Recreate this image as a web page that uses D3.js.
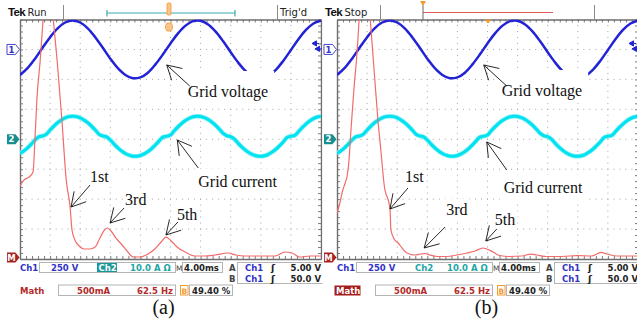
<!DOCTYPE html>
<html>
<head>
<meta charset="utf-8">
<script src="https://cdn.jsdelivr.net/npm/d3@7/dist/d3.min.js"></script>
<style>
  body { margin: 0; background: #fff; }
  svg { display: block; }
  .ui { font-family: "DejaVu Sans", sans-serif; font-weight: bold; font-size: 8.5px; }
  .note { font-family: "Liberation Serif", "Times New Roman", serif; font-size: 16px; fill: #111; }
</style>
</head>
<body>
<svg id="chart" width="637" height="321"></svg>
<script>
// ---- values read off the two scope screens ----
// Ch1 grid voltage, 250 V/div, sampled every 1 ms (4 ms/div)
const ch1Time = d3.range(0, 40.01, 1);
const ch1Volts = [-213,-156,-77,14,102,176,225,242,225,176,102,14,-77,-156,-213,-240,-233,-194,-125,-41,
  50,134,199,236,239,209,149,68,-23,-110,-182,-228,-242,-221,-170,-94,-5,85,163,217,241];

// Ch2 grid current, 10 A/div, sampled every 0.5 ms
const ch2Time = d3.range(0, 40.01, 0.5);
const ch2Amps = [-4.75,-3.92,-2.87,-1.63,-0.26,0.78,1.09,1.68,3.10,4.40,
  5.53,6.45,7.14,7.56,7.70,7.56,7.14,6.45,5.53,4.40,
  3.10,1.68,1.09,0.78,-0.26,-1.63,-2.87,-3.92,-4.75,-5.33,
  -5.65,-5.68,-5.42,-4.89,-4.11,-3.10,-1.89,-0.54,0.72,1.03,
  1.39,2.82,4.14,5.32,6.28,7.02,7.50,7.69,7.61,7.24,
  6.61,5.73,4.64,3.37,1.97,1.16,0.84,0.03,-1.38,-2.64,
  -3.73,-4.61,-5.24,-5.61,-5.69,-5.50,-5.03,-4.29,-3.34,-2.14,
  -0.83,0.61,0.97,1.28,2.53,3.89,5.09,6.10,6.89,7.42,
  7.70];

// Math FFT of the current, 62.5 Hz/div, 500 mA/div
const mathFreqA = [0,8,19,27,31,35,42,48,58,69,77,87,96,104,108,114,123,133,145,156,
  166,174,181,189,199,212,224,235,249,266,280,293,303,314,326,343,363,384,405,432,
  448,467,498,530,550,565,581,602,625];
const mathAmpA = [1194,1294,1344,1428,1962,2630,3298,3983,4970,3983,3298,2296,1294,843,459,292,192,142,142,175,
  326,443,493,443,326,209,92,8,8,58,142,259,342,276,175,92,25,25,42,75,
  42,25,25,25,92,75,8,25,25];
const mathFreqB = [0,6,12,17,21,25,29,35,42,46,56,69,77,85,91,98,110,112,120,127,
  135,145,162,174,183,193,208,228,249,270,287,303,311,324,338,357,384,403,415,436,
  467,498,529,548,561,581,625];
const mathAmpB = [743,910,1127,1244,1361,1628,2129,2797,3465,3983,4970,3983,3131,2296,1795,1211,810,459,292,242,
  159,75,42,58,67,42,17,17,42,75,109,159,142,92,33,17,25,58,42,17,
  17,33,25,84,58,25,25];

const triggerLevels = [5.0, 50.0];   // A, B trigger on Ch1 (V)
const captions = ["(a)", "(b)"];
const noteTexts = ["Grid voltage", "Grid current", "1st", "3rd", "5th"];

// ---- layout ----
const svg = d3.select("#chart");
const X0 = 20, Y0 = 19.5, W = 301, H = 239.5;
const BLUE = "#2222d6", CYAN = "#00e2ef", RED = "#f36a6a";
const UI_BLUE = "#3232c6", UI_TEAL = "#1ea5a5", UI_RED = "#b42a2a", ORANGE = "#f29a30", FRAME = "#6e6e6e";

const panels = [
  { id: "a", ox: 0, state: "Run", hiCh2: true, hiMath: false, freq: mathFreqA, amp: mathAmpA, capX: 163.5,
    notes: [
      { ch: "v", x: 19.5, y: -130, tdx: 21, tdy: 32, sdx: 23, sdy: 21, pad: [4, 12, 6, 3] },
      { ch: "i", x: 20.9, y: -0.25, tdx: 21, tdy: 47, sdx: 21, sdy: 28, pad: [4, 4, 4, 4] },
      { ch: "m", x: 106, y: 843, tdx: 19, tdy: -25, sdx: 19, sdy: -22, pad: [2, 2, 2, 2] },
      { ch: "m", x: 187, y: 576, tdx: 15, tdy: -18, sdx: 14, sdy: -15, pad: [2, 2, 2, 2] },
      { ch: "m", x: 303, y: 376, tdx: 11, tdy: -15, sdx: 12, sdy: -13, pad: [2, 2, 2, 2] }
    ] },
  { id: "b", ox: 317, state: "Stop", hiCh2: false, hiMath: true, freq: mathFreqB, amp: mathAmpB, capX: 169.5,
    notes: [
      { ch: "v", x: 19.5, y: -130, tdx: 18, tdy: 31, sdx: 23, sdy: 21, pad: [4, 12, 6, 3] },
      { ch: "i", x: 19.9, y: -0.9, tdx: 17, tdy: 51, sdx: 20, sdy: 28, pad: [4, 4, 4, 4] },
      { ch: "m", x: 110, y: 810, tdx: 15, tdy: -27, sdx: 18, sdy: -21, pad: [2, 2, 2, 2] },
      { ch: "m", x: 181, y: 159, tdx: 22, tdy: -33, sdx: 21, sdy: -21, pad: [2, 2, 2, 2] },
      { ch: "m", x: 309, y: 276, tdx: 9, tdy: -16, sdx: 11, sdy: -12, pad: [2, 2, 2, 2] }
    ] }
];

const defs = svg.append("defs");

function txt(g, x, y, s, fill, cls, anchor) {
  return g.append("text").attr("x", x).attr("y", y).attr("class", cls || "ui")
    .attr("fill", fill).attr("text-anchor", anchor || "start").text(s);
}

function drawPanel(p, pi) {
  const clipAll = defs.append("clipPath").attr("id", "all-" + p.id);
  clipAll.append("rect").attr("x", 0).attr("y", 0).attr("width", pi === 0 ? 322.5 : 400).attr("height", 321);
  const clipPlot = defs.append("clipPath").attr("id", "plot-" + p.id);
  clipPlot.append("rect").attr("x", X0).attr("y", Y0).attr("width", W).attr("height", H);

  const g = svg.append("g").attr("transform", `translate(${p.ox},0)`)
    .attr("clip-path", `url(#all-${p.id})`);

  const xT = d3.scaleLinear([0, 40], [X0, X0 + W]);
  const xF = d3.scaleLinear([0, 625], [X0, X0 + W]);
  const xDiv = d3.scaleLinear([0, 10], [X0, X0 + W]);
  const yDiv = d3.scaleLinear([-4, 4], [Y0 + H, Y0]);
  const y1 = v => yDiv(3 + v / 250);
  const y2 = a => yDiv(a / 10);
  const yM = m => yDiv(-3.95 + m / 500);

  // dotted graticule
  const grid = g.append("g").attr("stroke", "#a4a4a4").attr("stroke-width", 1);
  grid.selectAll(".gx").data(d3.range(1, 10)).join("line")
    .attr("x1", d => xDiv(d)).attr("x2", d => xDiv(d)).attr("y1", Y0).attr("y2", Y0 + H)
    .attr("stroke-dasharray", `1 ${H / 40 - 1}`).attr("stroke-dashoffset", 0.5);
  grid.selectAll(".gy").data(d3.range(-3, 4)).join("line")
    .attr("y1", d => yDiv(d)).attr("y2", d => yDiv(d)).attr("x1", X0).attr("x2", X0 + W)
    .attr("stroke-dasharray", `1 ${W / 50 - 1}`).attr("stroke-dashoffset", 0.5);

  // frame with minor ticks
  const minorX = d3.range(0, 10.01, 0.2), minorY = d3.range(-4, 4.01, 0.2);
  const frame = g.append("g");
  frame.append("g").attr("transform", `translate(0,${Y0})`)
    .call(d3.axisBottom(xDiv).tickValues(minorX).tickSize(3).tickFormat("").tickSizeOuter(0));
  frame.append("g").attr("transform", `translate(0,${Y0 + H})`)
    .call(d3.axisTop(xDiv).tickValues(minorX).tickSize(3).tickFormat("").tickSizeOuter(0));
  frame.append("g").attr("transform", `translate(${X0},0)`)
    .call(d3.axisRight(yDiv).tickValues(minorY).tickSize(3).tickFormat("").tickSizeOuter(0));
  frame.append("g").attr("transform", `translate(${X0 + W},0)`)
    .call(d3.axisLeft(yDiv).tickValues(minorY).tickSize(3).tickFormat("").tickSizeOuter(0));
  frame.selectAll("path.domain").attr("stroke", FRAME).attr("stroke-width", 1.4);
  frame.selectAll(".tick line").attr("stroke", FRAME).attr("stroke-width", 0.9);

  // traces
  const traces = g.append("g").attr("clip-path", `url(#plot-${p.id})`).attr("fill", "none");
  const lineV = d3.line().x((d, i) => xT(ch1Time[i])).y(d => y1(d)).curve(d3.curveCatmullRom);
  const lineI = d3.line().x((d, i) => xT(ch2Time[i])).y(d => y2(d)).curve(d3.curveCatmullRom);
  const lineM = d3.line().x((d, i) => xF(p.freq[i])).y(d => yM(d)).curve(d3.curveMonotoneX);
  traces.append("path").attr("d", lineI(ch2Amps)).attr("stroke", "#8ff2f7").attr("stroke-width", 4.6);
  traces.append("path").attr("d", lineI(ch2Amps)).attr("stroke", CYAN).attr("stroke-width", 3);
  traces.append("path").attr("d", lineV(ch1Volts)).attr("stroke", BLUE).attr("stroke-width", 2.5);
  traces.append("path").attr("d", lineM(p.amp)).attr("stroke", RED).attr("stroke-width", 1.2);

  // channel ground markers
  const mk = (y, label, fill, stroke, tcol) => {
    g.append("path").attr("d", `M${X0 - 13},${y - 5}h8.5l4,5l-4,5h-8.5z`)
      .attr("fill", fill).attr("stroke", stroke).attr("stroke-width", 0.9);
    txt(g, X0 - 8.5, y + 3.2, label, tcol, "ui", "middle").style("font-size", "8.5px");
  };
  mk(y1(0), "1", "#fff", UI_BLUE, UI_BLUE);
  mk(y2(0), "2", "#178f8f", "none", "#fff");
  mk(yM(0), "M", "#a52222", "none", "#fff");

  // trigger level markers (B upper, A lower)
  triggerLevels.forEach((lv, i) => {
    const x = X0 + (i === 0 ? 295 : 292), y = y1(lv);
    g.append("path").attr("d", `M${x},${y}l4.5,-2.6v5.2z M${x + 3},${y}h4`)
      .attr("fill", BLUE).attr("stroke", BLUE).attr("stroke-width", 1);
  });

  // header
  txt(g, 8, 15.5, "Tek", "#111", "ui").style("font-family", "Liberation Sans, sans-serif")
    .style("font-size", "11.5px").style("letter-spacing", "-0.6px");
  txt(g, 27.5, 15.5, p.state, "#222", "ui").style("font-weight", "normal").style("font-size", "10px");
  const hdr = g.append("g").attr("stroke", "#8a8a8a").attr("stroke-width", 1);
  hdr.append("line").attr("x1", 63.5).attr("x2", 63.5).attr("y1", 5).attr("y2", Y0);
  hdr.append("line").attr("x1", 277.5).attr("x2", 277.5).attr("y1", 5).attr("y2", Y0);
  if (p.id === "a") {
    const bar = g.append("g").attr("stroke", "#3aabab").attr("stroke-width", 1.2);
    bar.append("line").attr("x1", 107).attr("x2", 235).attr("y1", 13).attr("y2", 13);
    bar.append("line").attr("x1", 107).attr("x2", 107).attr("y1", 10).attr("y2", 16.5);
    bar.append("line").attr("x1", 235).attr("x2", 235).attr("y1", 10).attr("y2", 16.5);
    g.append("rect").attr("x", 167).attr("y", 3).attr("width", 4).attr("height", 12).attr("rx", 1)
      .attr("fill", "#f8c48a").attr("stroke", ORANGE).attr("stroke-width", 0.8);
    g.append("path").attr("d", "M167,23h4l1.5,2.5v3l-1.5,2.5h-4l-1.5,-2.5v-3z")
      .attr("fill", "#f8c48a").attr("stroke", ORANGE).attr("stroke-width", 0.8);
    txt(g, 280, 16, "Trig'd", "#222", "ui").style("font-weight", "normal").style("font-size", "10px");
  } else {
    g.append("line").attr("x1", 106).attr("x2", 236).attr("y1", 12.5).attr("y2", 12.5)
      .attr("stroke", "#e05a5a").attr("stroke-width", 1.1);
    g.append("line").attr("x1", 106).attr("x2", 106).attr("y1", 5).attr("y2", Y0)
      .attr("stroke", "#666").attr("stroke-width", 1);
    g.append("path").attr("d", "M103,1h6l-3,5z").attr("fill", ORANGE);
    g.append("path").attr("d", "M167.5,19.5h7l-3.5,4z").attr("fill", ORANGE);
  }

  // status readout
  const box = (x, y, w, h) => g.append("rect").attr("x", x).attr("y", y).attr("width", w).attr("height", h)
    .attr("fill", "none").attr("stroke", "#b4b4b4").attr("stroke-width", 1);
  txt(g, 20, 271, "Ch1", UI_BLUE);
  box(39.5, 262.5, 136, 10);
  txt(g, 51, 271, "250 V", UI_BLUE);
  if (p.hiCh2) {
    g.append("rect").attr("x", 97).attr("y", 263).attr("width", 20).attr("height", 9).attr("fill", "#189898");
    txt(g, 98.5, 271, "Ch2", "#fff");
  } else {
    txt(g, 98, 271, "Ch2", UI_TEAL);
  }
  txt(g, 130, 271, "10.0 A \u03A9", UI_TEAL);
  txt(g, 176, 271, "M", "#444").style("font-size", "7.5px").style("font-weight", "normal");
  box(182.5, 262.5, 40, 10);
  txt(g, 184, 271, "4.00ms", "#222");
  box(237.5, 262.5, 86, 21);
  txt(g, 229, 271, "A", "#444");
  txt(g, 229, 282, "B", "#444");
  [271, 282].forEach((y, i) => {
    txt(g, 245, y, "Ch1", UI_BLUE);
    txt(g, 271, y, "\u0283", "#222").style("font-size", "9.5px");
    txt(g, 321, y, i === 0 ? "5.00 V" : "50.0 V", "#222", "ui", "end");
  });
  if (p.hiMath) {
    g.append("rect").attr("x", 17.5).attr("y", 285.5).attr("width", 26).attr("height", 10).attr("fill", "#a41c1c");
    txt(g, 19, 294, "Math", "#fff");
  } else {
    txt(g, 20, 294, "Math", UI_RED);
  }
  box(58.5, 285, 117, 10.5);
  txt(g, 77, 294, "500mA", UI_RED);
  txt(g, 173, 294, "62.5 Hz", UI_RED, "ui", "end");
  g.append("rect").attr("x", 180.5).attr("y", 285.5).attr("width", 7.5).attr("height", 9.5)
    .attr("fill", "#fff").attr("stroke", ORANGE).attr("stroke-width", 1);
  txt(g, 184.3, 293.5, "B", ORANGE, "ui", "middle").style("font-size", "7.5px");
  box(189.5, 285, 43, 10.5);
  txt(g, 192, 294, "49.40 %", "#222");

  // caption
  txt(g, p.capX, 314, captions[pi], "#111", "note", "middle").style("font-size", "20px");

  // annotations
  const tip = n => n.ch === "v" ? [xT(n.x), y1(n.y)] : n.ch === "i" ? [xT(n.x), y2(n.y)] : [xF(n.x), yM(n.y)];
  const ann = g.append("g");
  p.notes.forEach((n, i) => {
    const [tx, ty] = tip(n);
    const t = txt(ann, tx + n.tdx, ty + n.tdy, noteTexts[i], "#111", "note");
    const bb = t.node().getBBox();
    ann.insert("rect", "text").attr("x", bb.x - n.pad[0]).attr("y", bb.y - n.pad[1])
      .attr("width", bb.width + n.pad[0] + n.pad[2]).attr("height", bb.height + n.pad[1] + n.pad[3])
      .attr("fill", "#fff");
    const ex = tx + n.sdx, ey = ty + n.sdy;
    const a = Math.atan2(ey - ty, ex - tx), L = 16, half = 0.52;
    ann.append("path")
      .attr("d", `M${ex},${ey}L${tx},${ty}M${tx + L * Math.cos(a + half)},${ty + L * Math.sin(a + half)}` +
        `L${tx},${ty}L${tx + L * Math.cos(a - half)},${ty + L * Math.sin(a - half)}`)
      .attr("fill", "none").attr("stroke", "#111").attr("stroke-width", 0.9);
  });
}

panels.forEach(drawPanel);
</script>
</body>
</html>
